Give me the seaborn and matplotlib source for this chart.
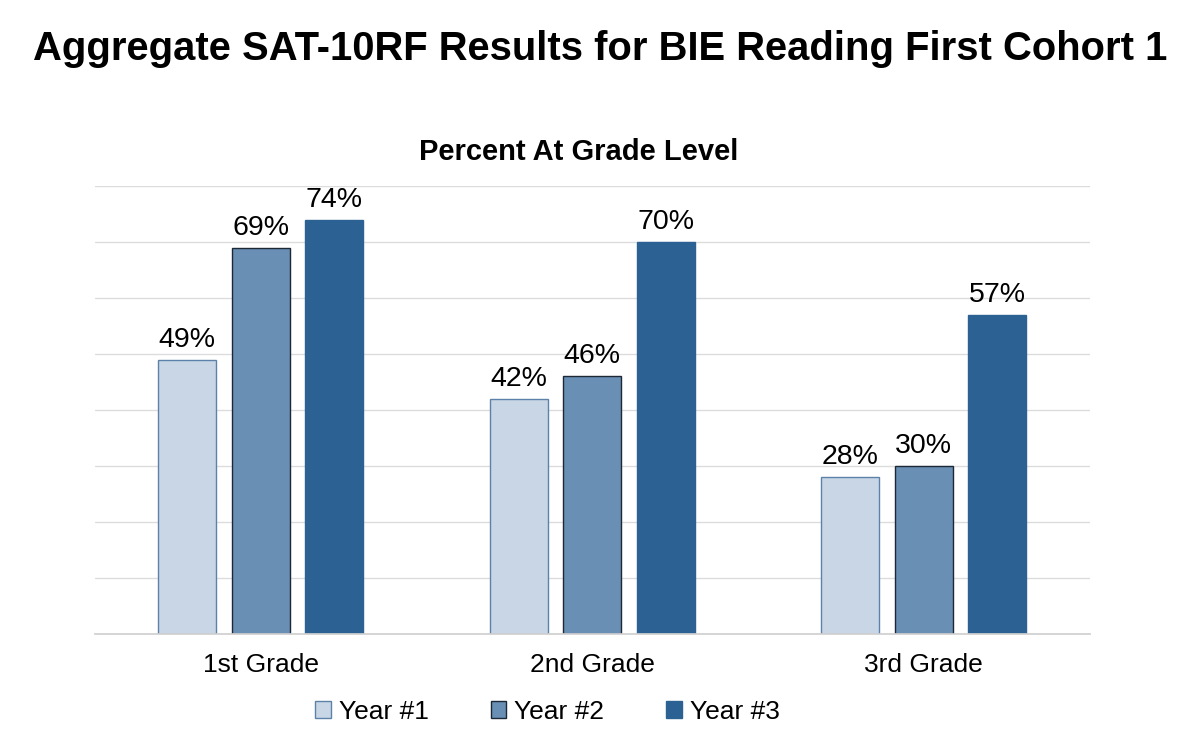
import matplotlib
matplotlib.use("Agg")
import matplotlib.pyplot as plt
import pandas as pd
import seaborn as sns

grades = ["1st Grade", "2nd Grade", "3rd Grade"]
years = ["Year #1", "Year #2", "Year #3"]
year1 = [49, 42, 28]
year2 = [69, 46, 30]
year3 = [74, 70, 57]

fills = ["#c8d6e5", "#6a8fb4", "#2b6193"]
edges = ["#5d82aa", "#1c2836", "#2b6193"]

df = pd.DataFrame({
    "grade": grades * 3,
    "year": [y for y in years for _ in grades],
    "pct": year1 + year2 + year3,
})

sns.set_theme(style="white")
plt.rcParams["font.family"] = ["Liberation Sans", "DejaVu Sans"]
plt.rcParams["text.color"] = "black"
plt.rcParams["xtick.color"] = "black"

fig = plt.figure(figsize=(12, 7.5), dpi=100)
ax = fig.add_axes([0.079, 0.155, 0.829, 0.597])

sns.barplot(data=df, x="grade", y="pct", hue="year", hue_order=years,
            palette=fills, width=0.664, gap=0.21, saturation=1,
            legend=False, ax=ax)

for cont, ec in zip(ax.containers, edges):
    for p in cont:
        p.set_edgecolor(ec)
        p.set_linewidth(1.0)
    ax.bar_label(cont, fmt="{:.0f}%", padding=5, fontsize=20.5, color="black")

ax.set_ylim(0, 80)
ax.set_xlim(-0.5, 2.5)
ax.set_yticks(range(0, 81, 10))
ax.set_yticklabels([])
ax.tick_params(axis="y", length=0)
ax.tick_params(axis="x", length=0, labelsize=19, pad=14, labelcolor="black")
ax.yaxis.grid(True, color="#dcdcdc", linewidth=1)
ax.set_axisbelow(True)
for s in ["top", "right", "left"]:
    ax.spines[s].set_visible(False)
ax.spines["bottom"].set_color("#d0d0d0")
ax.set_xlabel("")
ax.set_ylabel("")

ax.legend(handles=ax.containers, labels=years, loc="upper center",
          bbox_to_anchor=(0.455, -0.095), ncol=3, frameon=False, fontsize=19,
          handlelength=0.6, handleheight=0.6, handletextpad=0.3,
          columnspacing=2.33)

fig.text(0.5, 0.935, "Aggregate SAT-10RF Results for BIE Reading First Cohort 1",
         ha="center", va="center", fontsize=28.8, fontweight="bold")
fig.text(0.482, 0.797, "Percent At Grade Level", ha="center", va="center",
         fontsize=21, fontweight="bold")

fig.savefig("out.png", dpi=100)
